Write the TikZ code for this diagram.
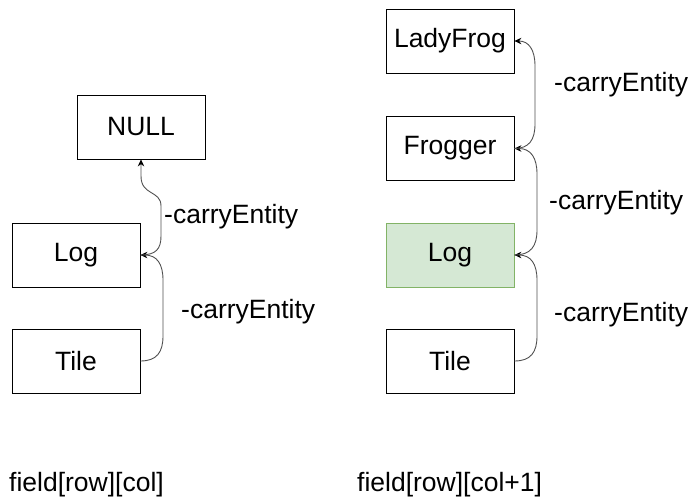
\documentclass[tikz,border=0pt]{standalone}
\usepackage{fontspec}
\setmainfont{Liberation Sans}
\usetikzlibrary{arrows.meta}
\definecolor{logfill}{HTML}{D5E8D4}
\definecolor{logline}{HTML}{82B366}
\definecolor{wire}{HTML}{505050}
\begin{document}
\begin{tikzpicture}[x=1pt,y=-1pt,
  every node/.style={font=\fontsize{26.5}{31}\selectfont},
  cell/.style={draw=black,line width=0.8pt,minimum width=128pt,minimum height=64pt,inner sep=0pt},
  greencell/.style={cell,fill=logfill,draw=logline},
  lbl/.style={anchor=base west,inner sep=0pt},
  carry/.style={draw=wire,line width=0.9pt,-{Stealth[length=7pt,width=6.5pt,black]}}]
\useasboundingbox (0,0) rectangle (691,499);

% column field[row][col]
\node[cell] (nullL) at (141,127) {NULL};
\node[cell] (logL)  at (76,255)  {Log};
\node[cell] (tileL) at (76,361)  {Tile};

% column field[row][col+1]
\node[cell]      (lady)    at (450,41)    {LadyFrog};
\node[cell]      (frogger) at (450,148.5) {Frogger};
\node[greencell] (logR)    at (450,255)   {Log};
\node[cell]      (tileR)   at (450,361)   {Tile};

% carry links, left column
\draw[carry] (tileL.east) .. controls (157,361) and (163,352) .. (163,336)
  -- (163,280) .. controls (163,264) and (157,255) .. (logL.east);
\draw[carry] (logL.east) .. controls (156,255) and (161,249) .. (161,236)
  -- (161,206) .. controls (161,190) and (141,196) .. (141,176) -- (nullL.south);

% carry links, right column
\draw[carry] (tileR.east) .. controls (531,361) and (537,352) .. (537,336)
  -- (537,280) .. controls (537,264) and (531,255) .. (logR.east);
\draw[carry] (logR.east) .. controls (531,255) and (537,246) .. (537,230)
  -- (537,174) .. controls (537,158) and (531,148.5) .. (frogger.east);
\draw[carry] (frogger.east) .. controls (529,148.5) and (535,140) .. (535,124)
  -- (535,66) .. controls (535,50) and (529,41) .. (lady.east);

% link labels
\node[lbl] (c1) at (164,223) {-carryEntity};
\node[lbl] (c2) at (181,318) {-carryEntity};
\node[lbl] (c3) at (554,91)  {-carryEntity};
\node[lbl] (c4) at (549,209) {-carryEntity};
\node[lbl] (c5) at (554,321) {-carryEntity};

% column captions
\node[lbl] (capL) at (9,491)  {field[row][col]};
\node[lbl] (capR) at (357,491) {field[row][col+1]};
\end{tikzpicture}
\end{document}
